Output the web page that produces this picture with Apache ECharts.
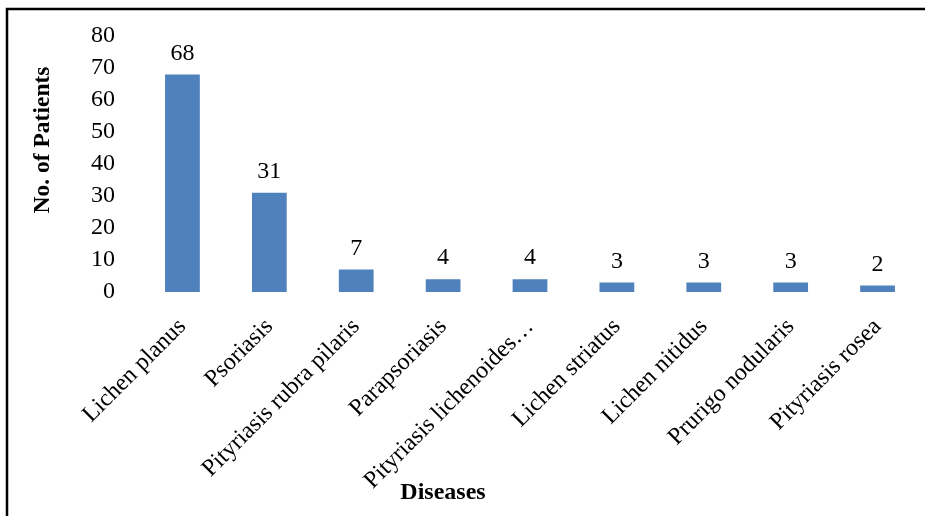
<!DOCTYPE html>
<html>
<head>
<meta charset="utf-8">
<script src="https://cdn.jsdelivr.net/npm/echarts@6/dist/echarts.min.js"></script>
<style>
  html, body { margin: 0; padding: 0; background: #fff; }
  #chart { width: 925px; height: 516px; }
</style>
</head>
<body>
<div id="chart"></div>
<script>
// Patient counts by disease
const diseases = [
  'Lichen planus',
  'Psoriasis',
  'Pityriasis rubra pilaris',
  'Parapsoriasis',
  'Pityriasis lichenoides\u2026',
  'Lichen striatus',
  'Lichen nitidus',
  'Prurigo nodularis',
  'Pityriasis rosea'
];
const patients = [68, 31, 7, 4, 4, 3, 3, 3, 2];
const yTicks = [0, 10, 20, 30, 40, 50, 60, 70, 80];

const serif = '"Liberation Serif", "Times New Roman", serif';
const chart = echarts.init(document.getElementById('chart'), null, { renderer: 'canvas' });

chart.setOption({
  backgroundColor: '#fff',
  animation: false,
  grid: { left: 139, right: 4, top: 36, bottom: 224, containLabel: false },
  xAxis: {
    type: 'category',
    data: diseases,
    axisLine: { show: false },
    axisTick: { show: false },
    axisLabel: {
      rotate: 45,
      interval: 0,
      margin: 31,
      color: '#000',
      fontFamily: serif,
      fontSize: 24
    }
  },
  yAxis: {
    type: 'value',
    min: yTicks[0],
    max: yTicks[yTicks.length - 1],
    interval: yTicks[1] - yTicks[0],
    axisLine: { show: false },
    axisTick: { show: false },
    splitLine: { show: false },
    axisLabel: {
      margin: 24,
      color: '#000',
      fontFamily: serif,
      fontSize: 24
    }
  },
  series: [{
    type: 'bar',
    data: patients,
    barWidth: '40%',
    itemStyle: { color: '#4F81BD' },
    label: {
      show: true,
      position: 'top',
      distance: 9,
      color: '#000',
      fontFamily: serif,
      fontSize: 24
    }
  }],
  graphic: [
    {
      type: 'rect',
      shape: { x: 7, y: 9, width: 1000, height: 600 },
      style: { fill: 'none', stroke: '#000', lineWidth: 2.5 },
      silent: true
    },
    {
      type: 'text',
      x: 43,
      y: 140,
      rotation: Math.PI / 2,
      style: {
        text: 'No. of Patients',
        font: 'bold 23.5px ' + serif,
        fill: '#000',
        textAlign: 'center',
        textVerticalAlign: 'middle'
      }
    },
    {
      type: 'text',
      x: 443,
      y: 493,
      style: {
        text: 'Diseases',
        font: 'bold 24px ' + serif,
        fill: '#000',
        textAlign: 'center',
        textVerticalAlign: 'middle'
      }
    }
  ]
});
</script>
</body>
</html>
